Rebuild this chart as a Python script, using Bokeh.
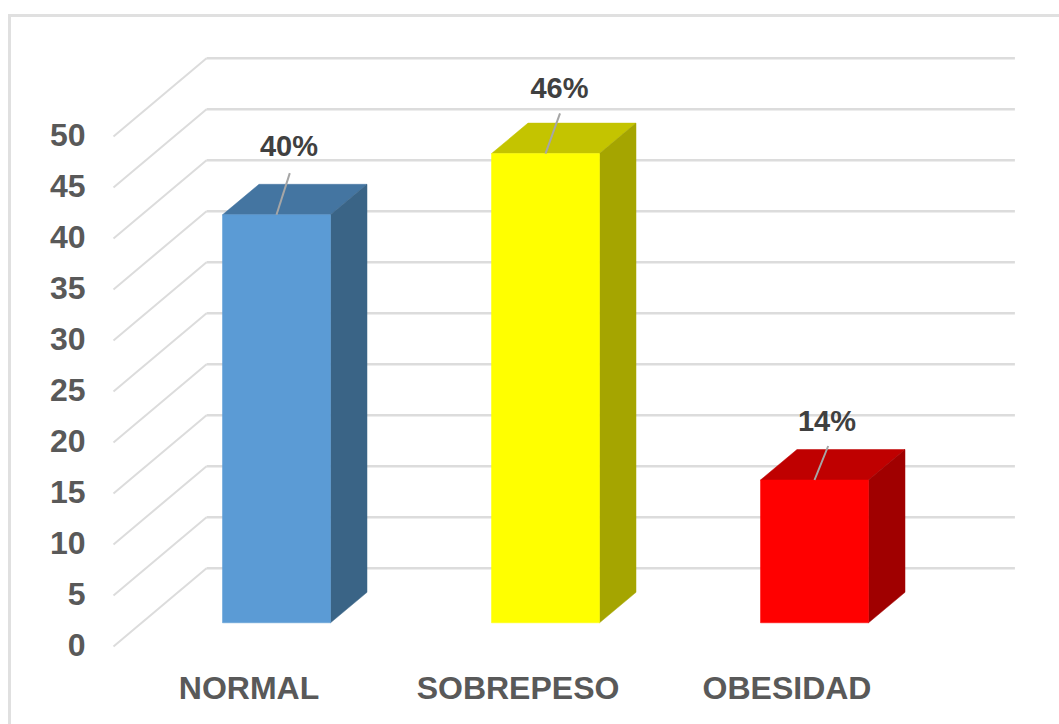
from bokeh.plotting import figure
from bokeh.embed import file_html
from bokeh.resources import INLINE
from bokeh.models import Range1d, LinearAxis, FixedTicker
from bokeh.core.properties import value

categories = ["NORMAL", "SOBREPESO", "OBESIDAD"]
values = [40, 46, 14]
labels = ["40%", "46%", "14%"]
ticks = [0, 5, 10, 15, 20, 25, 30, 35, 40, 45, 50]

front_colors = ["#5b9bd5", "#ffff00", "#ff0000"]
top_colors = ["#4475a1", "#c4c400", "#bf0000"]
side_colors = ["#3a6486", "#a5a500", "#a00000"]

GRID = "#dcdcdc"
W, H = 1059, 724
L, B = 96, 64
PX_X, PX_Y = 269.0, 10.2      # pixels per category / per value unit
BAR_W = 108 / PX_X
DX, DY = 36.5 / PX_X, 30.5 / PX_Y
X0_PAGE, Y0_PAGE = 276.0, 622.3

def xr(x0):  # x range so that index 0 falls on picture x0
    return Range1d((L - x0) / PX_X, (W - x0) / PX_X)

def yr(y0):  # y range so that value 0 falls on picture y0
    return Range1d((y0 - (H - B)) / PX_Y, y0 / PX_Y)

p = figure(width=W, height=H, output_backend="svg", toolbar_location=None,
           x_range=xr(X0_PAGE), y_range=yr(Y0_PAGE),
           min_border_left=L, min_border_bottom=B, min_border_top=0, min_border_right=0,
           x_axis_location=None, y_axis_location=None)
p.outline_line_color = None
p.grid.visible = False
p.background_fill_color = None
p.border_fill_color = None
# outer chart frame: only its left and top edges fall inside the picture
p.styles = {
    "background-color": "white",
    "background-image": "linear-gradient(#e0e0e0,#e0e0e0),linear-gradient(#e0e0e0,#e0e0e0)",
    "background-size": "3px 100%, 100% 3px",
    "background-position": "8px 14px, 8px 14px",
    "background-repeat": "no-repeat",
}

# 3D wall grid
BACK_UP = 5.35
FRONT_DOWN = 2.32
WALL_X0, WALL_X1, WALL_X2 = -0.606, -0.260, 2.745
p.segment([WALL_X0] * len(ticks), [t - FRONT_DOWN for t in ticks],
          [WALL_X1] * len(ticks), [t + BACK_UP for t in ticks],
          line_color=GRID, line_width=2)
p.segment([WALL_X1] * len(ticks), [t + BACK_UP for t in ticks],
          [WALL_X2] * len(ticks), [t + BACK_UP for t in ticks],
          line_color=GRID, line_width=2.5)

# bars
idx = list(range(len(values)))
for i, v in zip(idx, values):
    l, r = i - BAR_W / 2, i + BAR_W / 2
    p.patch([l, r, r + DX, l + DX], [v, v, v + DY, v + DY],
            fill_color=top_colors[i], line_color=top_colors[i], line_width=0.5)
    p.patch([r, r + DX, r + DX, r], [0, DY, v + DY, v],
            fill_color=side_colors[i], line_color=side_colors[i], line_width=0.5)
    p.quad(left=l, right=r, bottom=0, top=v,
           fill_color=front_colors[i], line_color=front_colors[i], line_width=0.5)

# leader lines and data labels
lead_dx = [13.3 / PX_X, 14.5 / PX_X, 13.7 / PX_X]
lead_dy = [41.7 / PX_Y, 40.3 / PX_Y, 34.0 / PX_Y]
lab_dx = [12.5 / PX_X, 13.9 / PX_X, 12.5 / PX_X]
lab_dy = [69.0 / PX_Y, 65.6 / PX_Y, 59.3 / PX_Y]
p.segment(idx, values,
          [i + d for i, d in zip(idx, lead_dx)],
          [v + d for v, d in zip(values, lead_dy)],
          line_color="#a6a6a6", line_width=2)
p.text([i + d for i, d in zip(idx, lab_dx)],
       [v + d for v, d in zip(values, lab_dy)],
       text=labels, text_font=value("Liberation Sans"), text_font_style="bold",
       text_font_size="29px", text_color="#404040",
       text_align="center", text_baseline="middle")

# axes with their own ranges (they sit on the front edge of the 3D floor)
p.extra_y_ranges = {"wall": yr(644.0)}
p.extra_x_ranges = {"floor": xr(248.5)}

ya = LinearAxis(y_range_name="wall", ticker=FixedTicker(ticks=ticks))
ya.axis_line_color = None
ya.major_tick_line_color = None
ya.minor_tick_line_color = None
ya.major_label_standoff = 5
ya.major_label_text_font = "Liberation Sans"
ya.major_label_text_font_style = "bold"
ya.major_label_text_font_size = "32px"
ya.major_label_text_color = "#595959"
p.add_layout(ya, "left")

xa = LinearAxis(x_range_name="floor", ticker=FixedTicker(ticks=idx),
                major_label_overrides={i: c for i, c in zip(idx, categories)})
xa.axis_line_color = None
xa.major_tick_line_color = None
xa.minor_tick_line_color = None
xa.major_label_standoff = 3
xa.major_label_text_font = "Liberation Sans"
xa.major_label_text_font_style = "bold"
xa.major_label_text_font_size = "32px"
xa.major_label_text_color = "#595959"
p.add_layout(xa, "below")

open("out.html", "w").write(file_html(p, INLINE))
